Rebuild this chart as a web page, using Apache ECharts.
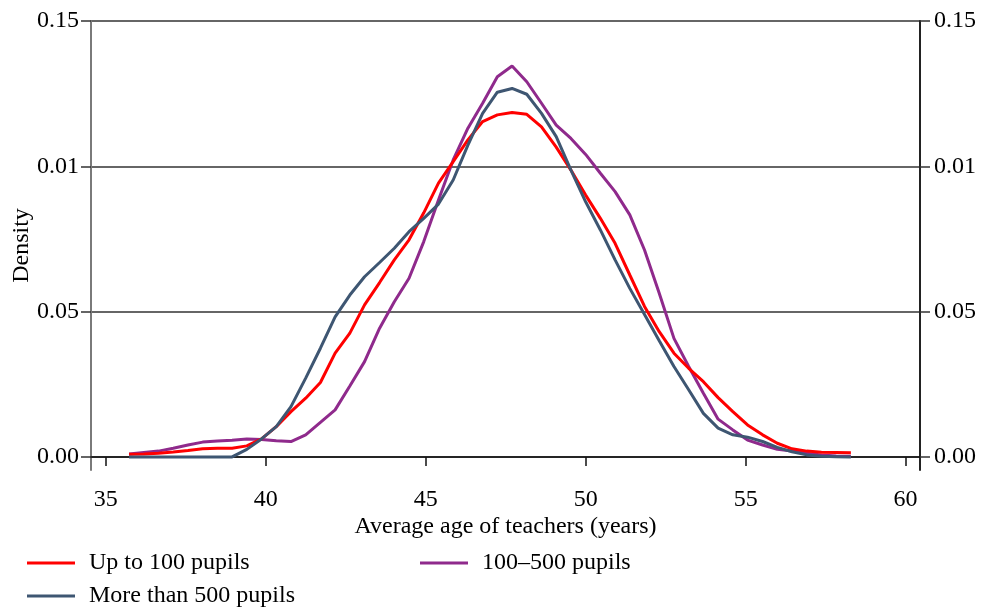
<!DOCTYPE html>
<html>
<head>
<meta charset="utf-8">
<script src="https://cdn.jsdelivr.net/npm/echarts@6/dist/echarts.min.js"></script>
<style>
  html, body { margin: 0; padding: 0; background: #fff; }
  #chart { width: 986px; height: 612px; }
</style>
</head>
<body>
<div id="chart"></div>
<script>
// Kernel density of the average teacher age, by school size
const ages = [35.73, 36.19, 36.65, 37.11, 37.57, 38.03, 38.49, 38.95, 39.41, 39.87,
              40.33, 40.79, 41.25, 41.71, 42.17, 42.63, 43.09, 43.56, 44.02, 44.48,
              44.94, 45.40, 45.86, 46.32, 46.78, 47.24, 47.70, 48.16, 48.62, 49.08,
              49.54, 50.00, 50.46, 50.92, 51.38, 51.84, 52.30, 52.76, 53.22, 53.68,
              54.14, 54.60, 55.06, 55.53, 55.99, 56.45, 56.91, 57.37, 57.83, 58.29];

const upTo100 = [0.0009, 0.0010, 0.0013, 0.0017, 0.0022, 0.0028, 0.0030, 0.0030, 0.0038, 0.0062,
                 0.0104, 0.0156, 0.0202, 0.0256, 0.0357, 0.0426, 0.0523, 0.0600, 0.0678, 0.0747,
                 0.0840, 0.0942, 0.1016, 0.1091, 0.1154, 0.1177, 0.1185, 0.1179, 0.1136, 0.1066,
                 0.0987, 0.0901, 0.0821, 0.0735, 0.0626, 0.0518, 0.0431, 0.0357, 0.0305, 0.0259,
                 0.0204, 0.0156, 0.0110, 0.0076, 0.0047, 0.0028, 0.0020, 0.0016, 0.0015, 0.0014];

const from100to500 = [0.0010, 0.0015, 0.0020, 0.0030, 0.0041, 0.0051, 0.0055, 0.0057, 0.0062, 0.0060,
                      0.0056, 0.0053, 0.0076, 0.0119, 0.0162, 0.0244, 0.0328, 0.0443, 0.0534, 0.0615,
                      0.0741, 0.0884, 0.1022, 0.1131, 0.1217, 0.1308, 0.1345, 0.1291, 0.1217, 0.1142,
                      0.1096, 0.1041, 0.0976, 0.0913, 0.0833, 0.0712, 0.0563, 0.0408, 0.0311, 0.0219,
                      0.0130, 0.0093, 0.0058, 0.0041, 0.0026, 0.0020, 0.0013, 0.0007, 0.0003, 0.0002];

const over500 = [0.0000, 0.0000, 0.0000, 0.0000, 0.0000, 0.0000, 0.0000, 0.0000, 0.0026, 0.0062,
                 0.0104, 0.0173, 0.0271, 0.0374, 0.0482, 0.0557, 0.0620, 0.0669, 0.0718, 0.0775,
                 0.0821, 0.0870, 0.0953, 0.1073, 0.1182, 0.1255, 0.1268, 0.1248, 0.1182, 0.1102,
                 0.0987, 0.0878, 0.0781, 0.0678, 0.0580, 0.0490, 0.0400, 0.0311, 0.0231, 0.0150,
                 0.0099, 0.0076, 0.0068, 0.0053, 0.0033, 0.0018, 0.0007, 0.0002, 0.0001, 0.0000];

const seriesNames = ['Up to 100 pupils', '100\u2013500 pupils', 'More than 500 pupils'];
const seriesColors = ['#ff0000', '#8f2a8c', '#3e5672'];

const xTicks = [35, 40, 45, 50, 55, 60];
const yTicks = [0, 0.05, 0.10, 0.15];
const yTickLabels = ['0.00', '0.05', '0.01', '0.15'];

const FONT = '"Liberation Serif", "Times New Roman", serif';
const FS = 24;

function pairs(ys) { return ages.map((a, i) => [a, ys[i]]); }
function yLabel(v) {
  const i = yTicks.findIndex(t => Math.abs(t - v) < 1e-9);
  return i >= 0 ? yTickLabels[i] : '';
}

const chart = echarts.init(document.getElementById('chart'), null, { renderer: 'canvas' });

const yAxisBase = {
  type: 'value',
  min: -0.0045,
  max: 0.15,
  axisTick: { show: true, inside: false, length: 10, customValues: yTicks,
              lineStyle: { color: '#333', width: 1.5 } },
  axisLabel: { customValues: yTicks, formatter: yLabel,
               fontFamily: FONT, fontSize: FS, color: '#000' },
};

chart.setOption({
  animation: false,
  backgroundColor: '#fff',
  grid: { left: 91, right: 66, top: 21, bottom: 142, containLabel: false, outerBoundsMode: 'none' },
  xAxis: {
    type: 'value',
    min: 34.54,
    max: 60.45,
    name: 'Average age of teachers (years)',
    nameLocation: 'middle',
    nameGap: 45,
    nameMoveOverlap: false,
    nameTextStyle: { fontFamily: FONT, fontSize: FS, color: '#000' },
    axisLine: { show: true, lineStyle: { color: '#111', width: 1.5 } },
    axisTick: { show: true, length: 9, customValues: xTicks,
                lineStyle: { color: '#111', width: 1.5 } },
    axisLabel: { customValues: xTicks, margin: 18,
                 fontFamily: FONT, fontSize: FS, color: '#000' },
    splitLine: { show: false },
  },
  yAxis: [
    Object.assign({}, yAxisBase, {
      position: 'left',
      name: 'Density',
      nameLocation: 'middle',
      nameGap: 57,
      nameRotate: 90,
      nameMoveOverlap: false,
      nameTextStyle: { fontFamily: FONT, fontSize: FS, color: '#000' },
      axisLine: { show: true, lineStyle: { color: '#7a7a7a', width: 2 } },
      axisLabel: Object.assign({}, yAxisBase.axisLabel, { margin: 12 }),
      splitLine: { show: true, lineStyle: { color: '#333', width: 1.5 } },
    }),
    Object.assign({}, yAxisBase, {
      position: 'right',
      axisLine: { show: true, lineStyle: { color: '#222', width: 2 } },
      axisLabel: Object.assign({}, yAxisBase.axisLabel, { margin: 14 }),
      splitLine: { show: false },
    }),
  ],
  legend: seriesNames.map((n, i) => ({
    data: [n],
    left: [22, 415, 22][i],
    top: [546, 546, 579][i],
    icon: 'rect',
    itemWidth: 48,
    itemHeight: 3,
    textStyle: { fontFamily: FONT, fontSize: FS, color: '#000', padding: [0, 0, 0, 9] },
    selectedMode: false,
  })),
  series: [upTo100, from100to500, over500].map((ys, i) => ({
    name: seriesNames[i],
    type: 'line',
    data: pairs(ys),
    symbol: 'none',
    smooth: false,
    z: [3, 2, 4][i],
    lineStyle: { color: seriesColors[i], width: 3 },
    itemStyle: { color: seriesColors[i] },
  })),
});
</script>
</body>
</html>
